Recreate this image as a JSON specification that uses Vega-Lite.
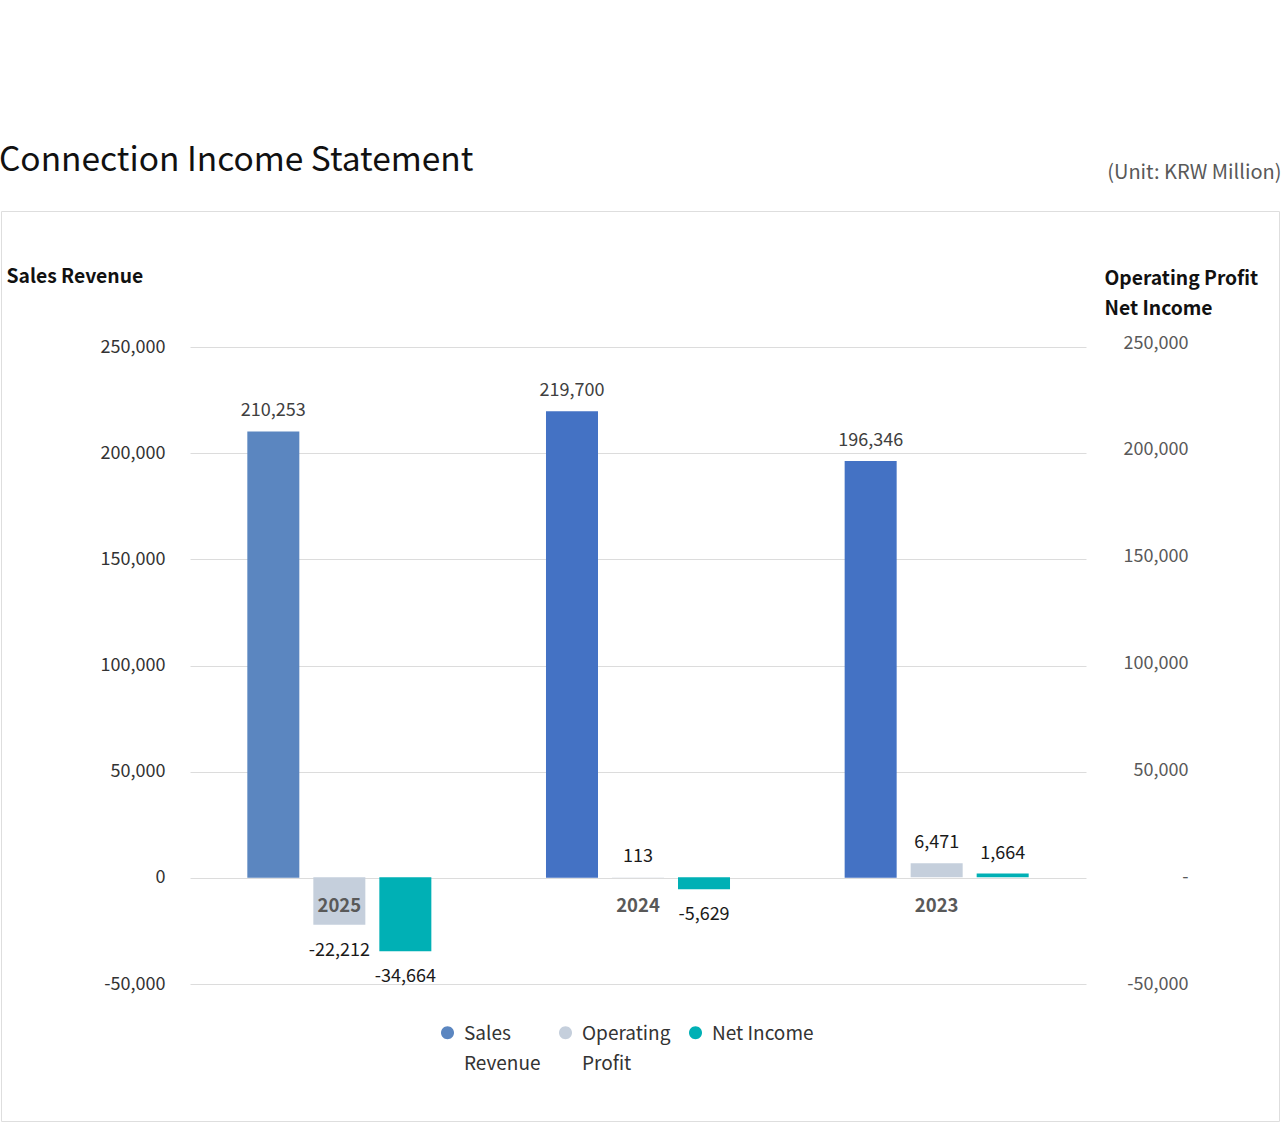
{
  "$schema": "https://vega.github.io/schema/vega-lite/v6.json",
  "width": 1278,
  "height": 910,
  "autosize": {"type": "none"},
  "padding": {"left": 1, "top": 211, "right": 2, "bottom": 2},
  "background": "white",
  "title": {
    "text": "Connection Income Statement",
    "anchor": "start",
    "frame": "group",
    "fontSize": 33.5,
    "fontWeight": "normal",
    "color": "#111111",
    "baseline": "alphabetic",
    "offset": -42,
    "dx": -2
  },
  "data": {
    "values": [
      {"year": "2025", "series": "Sales Revenue", "value": 210253},
      {"year": "2025", "series": "Operating Profit", "value": -22212},
      {"year": "2025", "series": "Net Income", "value": -34664},
      {"year": "2024", "series": "Sales Revenue", "value": 219700},
      {"year": "2024", "series": "Operating Profit", "value": 113},
      {"year": "2024", "series": "Net Income", "value": -5629},
      {"year": "2023", "series": "Sales Revenue", "value": 196346},
      {"year": "2023", "series": "Operating Profit", "value": 6471},
      {"year": "2023", "series": "Net Income", "value": 1664}
    ]
  },
  "encoding": {
    "x": {
      "field": "year",
      "type": "nominal",
      "scale": {"domain": ["2025", "2024", "2023"], "range": [189, 1085], "paddingInner": 0.337, "paddingOuter": 0.1685},
      "axis": {
        "orient": "bottom",
        "offset": -243,
        "grid": false,
        "domain": false,
        "ticks": false,
        "tickSize": 0,
        "labelAngle": 0,
        "labelFontSize": 18.5,
        "labelFontWeight": "bold",
        "labelColor": "#595959",
        "labelPadding": 27,
        "labelBaseline": "middle",
        "zindex": 1,
        "title": "(Unit: KRW Million)",
        "titleX": 1280,
        "titleY": -700,
        "titleAlign": "right",
        "titleAnchor": "end",
        "titleBaseline": "alphabetic",
        "titleFontSize": 20,
        "titleFontWeight": "normal",
        "titleColor": "#595959"
      }
    },
    "xOffset": {
      "field": "series",
      "type": "nominal",
      "scale": {"domain": ["Sales Revenue", "Operating Profit", "Net Income"], "paddingInner": 0.2121, "paddingOuter": 0.106}
    }
  },
  "layer": [
    {
      "transform": [{"filter": "datum.series == 'Sales Revenue'"}],
      "encoding": {
        "y": {
          "field": "value",
          "type": "quantitative",
          "scale": {"domain": [-50000, 250000], "range": [773, 136], "nice": false, "zero": false},
          "axis": {
            "orient": "left",
            "offset": -189,
            "values": [-50000, 0, 50000, 100000, 150000, 200000, 250000],
            "format": ",.0f",
            "grid": true,
            "gridColor": "#dcdcdc",
            "domain": false,
            "ticks": false,
            "tickSize": 0,
            "labelFontSize": 18,
            "labelColor": "#333333",
            "labelPadding": 25,
            "title": "Sales Revenue",
            "titleAngle": 0,
            "titleX": -184,
            "titleY": 71,
            "titleAlign": "left",
            "titleBaseline": "alphabetic",
            "titleFontSize": 19.3,
            "titleFontWeight": "bold",
            "titleColor": "#111111"
          }
        }
      },
      "layer": [
        {
          "mark": {"type": "bar"},
          "encoding": {
            "color": {
              "condition": {"test": "datum.year != '2025'", "value": "#4472c4"},
              "field": "series",
              "type": "nominal",
              "scale": {"domain": ["Sales Revenue", "Operating Profit", "Net Income"], "range": ["#5b86c0", "#c5cfdc", "#00b0b5"]},
              "legend": {
                "orient": "none",
                "legendX": 437,
                "legendY": 819,
                "direction": "horizontal",
                "title": null,
                "symbolType": "M -1,-1.08 A 1,1 0 1,1 1,-1.08 A 1,1 0 1,1 -1,-1.08 Z",
                "symbolSize": 169,
                "symbolStrokeWidth": 0,
                "labelFontSize": 19,
                "labelColor": "#333333",
                "labelBaseline": "alphabetic",
                "labelOffset": 7,
                "columnPadding": 15,
                "labelLimit": 300,
                "labelExpr": "datum.label == 'Sales Revenue' ? ['Sales', 'Revenue'] : datum.label == 'Operating Profit' ? ['Operating', 'Profit'] : [datum.label, ' ']"
              }
            }
          }
        },
        {
          "mark": {"type": "text", "baseline": "alphabetic", "dy": -15, "fontSize": 18, "color": "#404040"},
          "encoding": {"text": {"field": "value", "type": "quantitative", "format": ",.0f"}}
        }
      ]
    },
    {
      "transform": [{"filter": "datum.series != 'Sales Revenue'"}],
      "encoding": {
        "y": {
          "field": "value",
          "type": "quantitative",
          "scale": {"domain": [-50000, 250000], "range": [773, 132], "nice": false, "zero": false},
          "axis": {
            "orient": "right",
            "offset": -193,
            "values": [-50000, 0, 50000, 100000, 150000, 200000, 250000],
            "format": ",.0f",
            "labelExpr": "datum.value == 0 ? '-' : datum.label",
            "grid": false,
            "domain": false,
            "ticks": false,
            "tickSize": 0,
            "labelFontSize": 18,
            "labelColor": "#595959",
            "labelAlign": "right",
            "labelPadding": 102,
            "title": ["Operating Profit", "Net Income"],
            "titleAngle": 0,
            "titleX": 18,
            "titleY": 73,
            "titleAlign": "left",
            "titleBaseline": "alphabetic",
            "titleLineHeight": 30,
            "titleFontSize": 19.3,
            "titleFontWeight": "bold",
            "titleColor": "#111111"
          }
        }
      },
      "layer": [
        {
          "mark": {"type": "bar"},
          "encoding": {
            "color": {
              "field": "series",
              "type": "nominal",
              "scale": {"domain": ["Sales Revenue", "Operating Profit", "Net Income"], "range": ["#5b86c0", "#c5cfdc", "#00b0b5"]}
            }
          }
        },
        {
          "transform": [{"filter": "datum.value >= 0"}],
          "mark": {"type": "text", "baseline": "alphabetic", "dy": -15, "fontSize": 18, "color": "#1a1a1a"},
          "encoding": {"text": {"field": "value", "type": "quantitative", "format": ",.0f"}}
        },
        {
          "transform": [{"filter": "datum.value < 0"}],
          "mark": {"type": "text", "baseline": "alphabetic", "dy": 31, "fontSize": 18, "color": "#1a1a1a"},
          "encoding": {"text": {"field": "value", "type": "quantitative", "format": ",.0f"}}
        }
      ]
    }
  ],
  "resolve": {"scale": {"y": "independent"}},
  "config": {
    "font": "Noto Sans CJK KR",
    "locale": {"number": {"decimal": ".", "thousands": ",", "grouping": [3], "currency": ["", ""], "minus": "-"}},
    "view": {"stroke": "#dedede", "strokeWidth": 1},
    "style": {"guide-label": {"lineHeight": 30}}
  }
}
